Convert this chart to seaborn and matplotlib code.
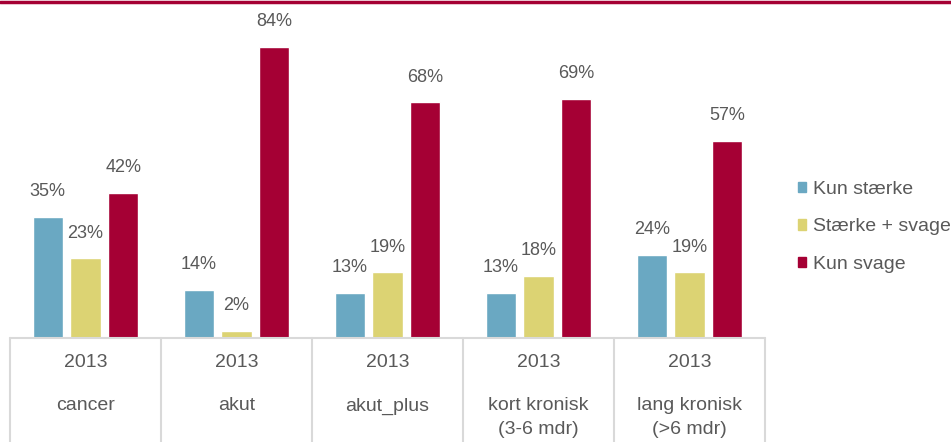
import pandas as pd
import matplotlib.pyplot as plt
import seaborn as sns
from matplotlib.lines import Line2D

categories = ['cancer', 'akut', 'akut_plus', 'kort kronisk\n(3-6 mdr)', 'lang kronisk\n(>6 mdr)']
year = '2013'
series = ['Kun stærke', 'Stærke + svage', 'Kun svage']
kun_staerke = [35, 14, 13, 13, 24]
staerke_svage = [23, 2, 19, 18, 19]
kun_svage = [42, 84, 68, 69, 57]
colors = ['#6AA8C2', '#DCD373', '#A50034']

sns.set_style('white')
plt.rcParams['font.family'] = ['Liberation Sans', 'DejaVu Sans']
txt = '#595959'

rows = []
for i, c in enumerate(categories):
    for s, vals in zip(series, [kun_staerke, staerke_svage, kun_svage]):
        rows.append({'cat': c, 'serie': s, 'val': vals[i]})
df = pd.DataFrame(rows)

fig = plt.figure(figsize=(9.51, 4.42), dpi=100)
ax = fig.add_axes([10 / 951, 0, 755 / 951, 440 / 442])
sns.barplot(data=df, x='cat', y='val', hue='serie', palette=colors, width=0.75, gap=0.2,
            order=categories, hue_order=series, ax=ax, legend=False, saturation=1)

for cont in ax.containers:
    ax.bar_label(cont, labels=[f'{v:.0f}%' for v in cont.datavalues], padding=12,
                 fontsize=13, color=txt)

ax.set_xlim(-0.5, len(categories) - 0.5)
ax.set_ylim(-30, 97)
for sp in ax.spines.values():
    sp.set_visible(False)
ax.set_xticks([])
ax.set_yticks([])
ax.set_xlabel('')
ax.set_ylabel('')

grid = '#D9D9D9'
ax.plot([-0.5, len(categories) - 0.5], [0, 0], color=grid, lw=1.5, clip_on=False)
for k in range(len(categories) + 1):
    ax.plot([k - 0.5, k - 0.5], [-30, 0], color=grid, lw=1.5, clip_on=False)
for i, c in enumerate(categories):
    ax.text(i, -7.1, year, ha='center', va='center', fontsize=14, color=txt)
    for j, line in enumerate(c.split('\n')):
        ax.text(i, -19.6 - j * 6.9, line, ha='center', va='center', fontsize=14, color=txt)

handles = [plt.Rectangle((0, 0), 1, 1, color=col) for col in colors]
fig.legend(handles, series, loc='center left', bbox_to_anchor=(788 / 951, 1 - 227 / 442),
           frameon=False, fontsize=14, labelcolor=txt, handlelength=0.45, handleheight=0.45,
           handletextpad=0.35, labelspacing=1.05, borderpad=0)

fig.add_artist(Line2D([0, 1], [1 - 1.5 / 442, 1 - 1.5 / 442], color='#A50034', lw=2.5))

fig.savefig('out.png', dpi=100)
